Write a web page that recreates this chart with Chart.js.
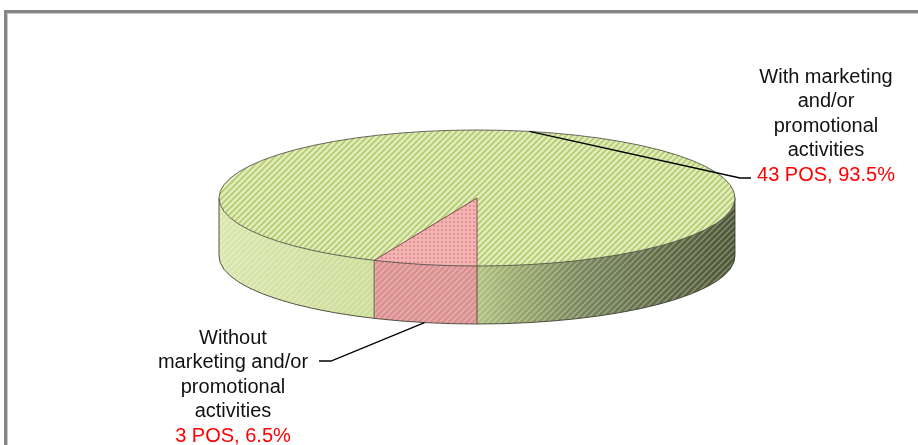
<!DOCTYPE html>
<html lang="en">
<head>
    <meta charset="UTF-8">
    <title>POS with / without marketing and/or promotional activities</title>
    <style>
        html, body { margin: 0; padding: 0; background: #fff; }
        #wrap { position: relative; width: 918px; height: 445px; overflow: hidden; }
        #frame {
            position: absolute; left: 4px; top: 10px; width: 960px; height: 480px;
            border-left: 3px solid #858585; border-top: 3px solid #858585;
            box-shadow: inset 1px 1px 0 #c9c9c9;
        }
        #box { position: absolute; left: 0; top: 0; width: 918px; height: 445px; }
    </style>
    <script src="https://cdn.jsdelivr.net/npm/chart.js"></script>
</head>
<body>
<div id="wrap">
    <div id="frame"></div>
    <div id="box"><canvas id="posChart"></canvas></div>
</div>
<script>
    // Data
    const categories = [
        ['With marketing', 'and/or', 'promotional', 'activities'],
        ['Without', 'marketing and/or', 'promotional', 'activities']
    ];
    const posCounts = [43, 3];

    const total = posCounts.reduce((a, b) => a + b, 0);
    const shareText = posCounts.map(v => v + ' POS, ' + (v / total * 100).toFixed(1) + '%');

    const ctx = document.getElementById('posChart').getContext('2d');

    // Small tiles for the hatched Excel-like fills
    function makePattern(size, bg, draw) {
        const c = document.createElement('canvas');
        c.width = c.height = size;
        const g = c.getContext('2d');
        if (bg) { g.fillStyle = bg; g.fillRect(0, 0, size, size); }
        draw(g, size);
        return ctx.createPattern(c, 'repeat');
    }
    function slash(g, s, color, w) {
        g.strokeStyle = color; g.lineWidth = w;
        g.beginPath();
        g.moveTo(0, s); g.lineTo(s, 0);
        g.moveTo(-s / 2, s / 2); g.lineTo(s / 2, -s / 2);
        g.moveTo(s / 2, s * 1.5); g.lineTo(s * 1.5, s / 2);
        g.stroke();
    }
    const greenTop = makePattern(6, '#e3eec3', (g, s) => slash(g, s, '#b8cf74', 2));
    const pinkTop = makePattern(4, '#f5b4b4', (g) => { g.fillStyle = '#e39292'; g.fillRect(1, 1, 2, 2); });
    const sideStripes = makePattern(6, null, (g, s) => slash(g, s, 'rgba(255,255,255,0.3)', 1.5));

    // Draws the pie as a tilted disc: side wall first, then the squashed top face
    const pie3d = {
        id: 'pie3d',
        beforeDatasetsDraw(chart, args, opts) {
            const c = chart.ctx;
            const arcs = chart.getDatasetMeta(0).data;
            const { x: cx, y: cy, outerRadius: r } = arcs[0];
            const rx = opts.rx, ry = opts.ry, depth = opts.depth;
            const squash = () => { c.translate(cx, cy); c.scale(rx / r, ry / r); c.translate(-cx, -cy); };

            const grad = c.createLinearGradient(cx - r, 0, cx + r, 0);
            grad.addColorStop(0, '#d9e6ac');
            grad.addColorStop(0.3, '#cddd98');
            grad.addColorStop(0.48, '#b6c784');
            grad.addColorStop(0.58, '#98a86c');
            grad.addColorStop(0.72, '#76835a');
            grad.addColorStop(0.88, '#5e6944');
            grad.addColorStop(1, '#4d5636');
            const sideFills = [grad, '#dc9090'];

            for (let d = depth; d >= 1; d--) {
                c.save();
                c.translate(0, d);
                squash();
                arcs.forEach((arc, i) => {
                    const o = arc.options;
                    arc.options = Object.assign({}, o, { backgroundColor: sideFills[i], borderWidth: 0 });
                    arc.draw(c);
                    arc.options = o;
                });
                c.restore();
            }

            // hatch over the side band, rim and seams
            c.save();
            c.beginPath();
            c.ellipse(cx, cy + depth, rx, ry, 0, 0, Math.PI);
            c.ellipse(cx, cy, rx, ry, 0, Math.PI, 0, true);
            c.closePath();
            c.fillStyle = sideStripes;
            c.fill();

            c.strokeStyle = 'rgba(55,55,45,0.85)';
            c.lineWidth = 1;
            c.beginPath();
            c.ellipse(cx, cy + depth, rx, ry, 0, 0, Math.PI);
            c.moveTo(cx - rx, cy); c.lineTo(cx - rx, cy + depth);
            c.moveTo(cx + rx, cy); c.lineTo(cx + rx, cy + depth);
            c.stroke();

            c.strokeStyle = 'rgba(80,50,50,0.8)';
            c.beginPath();
            arcs.forEach(arc => {
                const a = arc.startAngle;
                if (Math.sin(a) > 0) {
                    const px = cx + rx * Math.cos(a), py = cy + ry * Math.sin(a);
                    c.moveTo(px, py); c.lineTo(px, py + depth);
                }
            });
            c.stroke();
            c.restore();

            // squash the top face drawn by Chart.js
            c.save();
            squash();
            const inv = c.getTransform().inverse();
            greenTop.setTransform(inv);
            pinkTop.setTransform(inv);
        },
        afterDatasetsDraw(chart, args, opts) {
            const c = chart.ctx;
            c.restore();
            const arcs = chart.getDatasetMeta(0).data;
            const { x: cx, y: cy } = arcs[0];
            c.save();
            c.lineWidth = 1;
            c.strokeStyle = 'rgba(80,80,70,0.85)';
            c.beginPath();
            c.ellipse(cx, cy, opts.rx, opts.ry, 0, 0, Math.PI * 2);
            c.stroke();
            c.strokeStyle = 'rgba(100,60,60,0.85)';
            c.beginPath();
            arcs.forEach(arc => {
                const a = arc.startAngle;
                c.moveTo(cx, cy);
                c.lineTo(cx + opts.rx * Math.cos(a), cy + opts.ry * Math.sin(a));
            });
            c.stroke();
            c.restore();
        }
    };

    // Category labels with leader lines
    const callouts = {
        id: 'callouts',
        afterDraw(chart, args, opts) {
            const c = chart.ctx;
            const arcs = chart.getDatasetMeta(0).data;
            const { x: cx, y: cy } = arcs[0];
            const p3 = chart.options.plugins.pie3d;
            c.save();
            arcs.forEach((arc, i) => {
                const box = opts.boxes[i];
                const m = (arc.startAngle + arc.endAngle) / 2;
                let ax = cx + p3.rx * Math.cos(m), ay = cy + p3.ry * Math.sin(m);
                if (Math.sin(m) > 0) ay += p3.depth;
                c.strokeStyle = '#000';
                c.lineWidth = 1.3;
                c.beginPath();
                c.moveTo(ax, ay);
                c.lineTo(box.elbow[0], box.elbow[1]);
                c.lineTo(box.end, box.elbow[1]);
                c.stroke();

                c.font = '20px "Liberation Sans", Arial, sans-serif';
                c.textAlign = 'center';
                c.textBaseline = 'middle';
                const lines = categories[i].concat([shareText[i]]);
                lines.forEach((t, k) => {
                    c.fillStyle = k === lines.length - 1 ? '#ff0000' : '#111';
                    c.fillText(t, box.x, box.y + k * opts.lineHeight);
                });
            });
            c.restore();
        }
    };

    new Chart(ctx, {
        type: 'pie',
        data: {
            labels: categories.map(c => c.join(' ')),
            datasets: [{
                data: posCounts,
                backgroundColor: [greenTop, pinkTop],
                borderWidth: 0,
                clip: false
            }]
        },
        options: {
            responsive: true,
            maintainAspectRatio: false,
            animation: false,
            events: [],
            rotation: 180 + 360 * posCounts[1] / total,
            layout: { padding: { left: 36, right: 0, top: 0, bottom: 49 } },
            plugins: {
                legend: { display: false },
                tooltip: { enabled: false },
                pie3d: { rx: 258, ry: 68, depth: 58 },
                callouts: {
                    lineHeight: 24.6,
                    boxes: [
                        { x: 826, y: 77, elbow: [740, 178], end: 751 },
                        { x: 233, y: 338, elbow: [331, 361], end: 319 }
                    ]
                }
            }
        },
        plugins: [pie3d, callouts]
    });
</script>
</body>
</html>
